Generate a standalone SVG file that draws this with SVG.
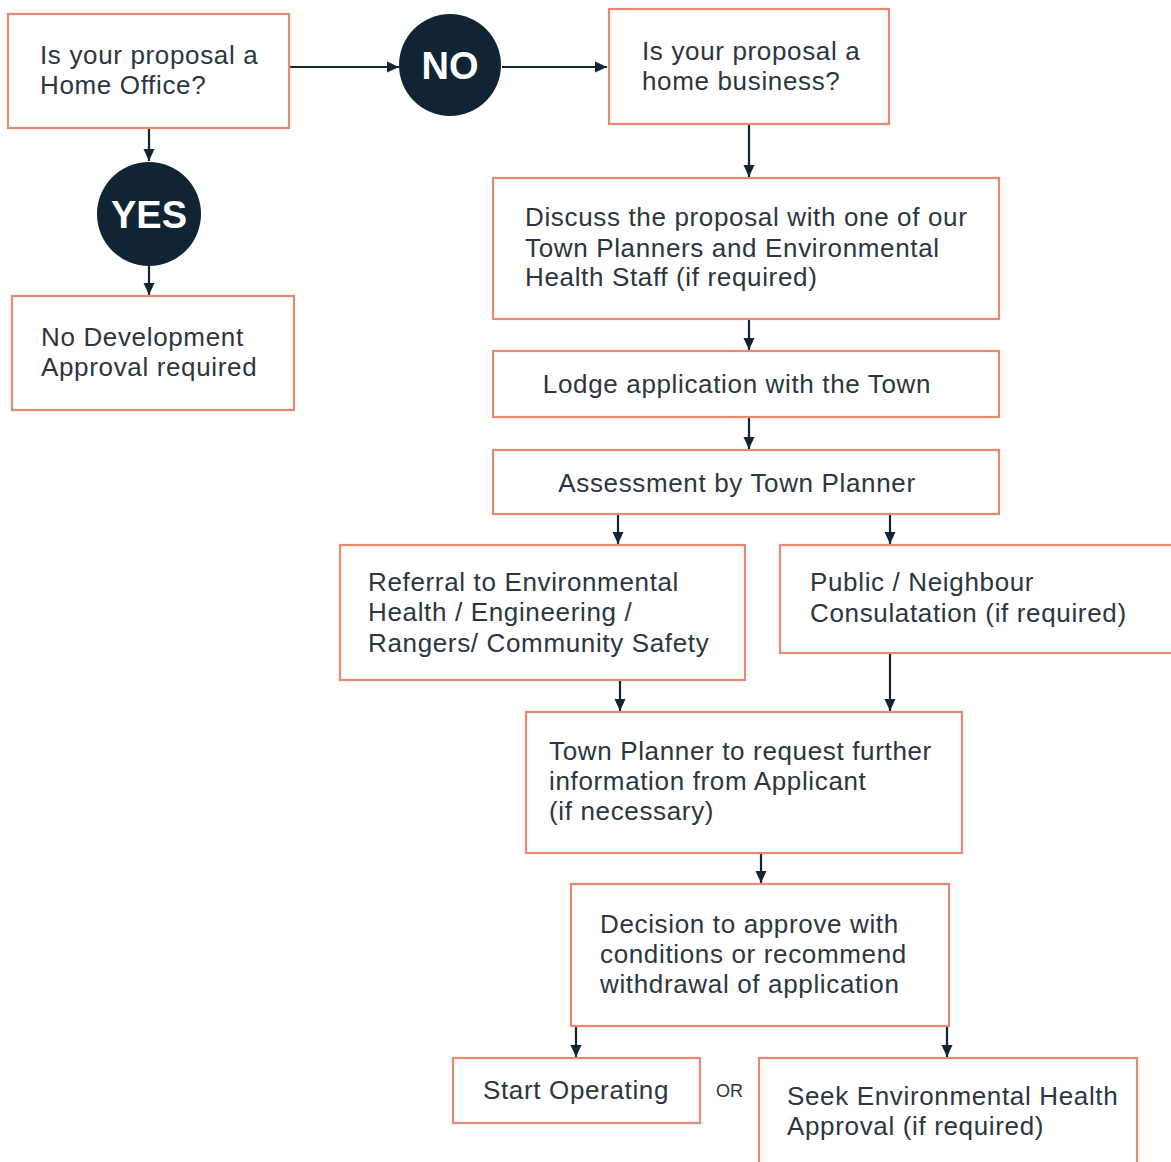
<svg xmlns="http://www.w3.org/2000/svg" width="1171" height="1162" viewBox="0 0 1171 1162">
<defs>
<marker id="ah" viewBox="0 0 12 12" refX="12" refY="6" markerWidth="12" markerHeight="12" markerUnits="userSpaceOnUse" orient="auto">
<path d="M0,0.5 L12,6 L0,11.5 Z" fill="#0f2534"/>
</marker>
<style>
.box{fill:#fff;stroke:#e58a70;stroke-width:2.2}
.t{font-family:"Liberation Sans",Arial,sans-serif;font-size:26px;fill:#2b3640;letter-spacing:0.65px}
.c{text-anchor:middle}
.circ{fill:#0f2534}
.ct{font-family:"Liberation Sans",Arial,sans-serif;font-weight:bold;font-size:38px;fill:#fff;text-anchor:middle}
.ln{stroke:#0f2534;stroke-width:2.2;fill:none;marker-end:url(#ah)}
</style>
</defs>
<rect width="1171" height="1162" fill="#fff"/>
<g id="connectors">
<line class="ln" x1="289" y1="67" x2="399" y2="67"/>
<line class="ln" x1="502" y1="67" x2="607" y2="67"/>
<line class="ln" x1="149" y1="128" x2="149" y2="161"/>
<line class="ln" x1="149" y1="266" x2="149" y2="295"/>
<line class="ln" x1="749" y1="124" x2="749" y2="177"/>
<line class="ln" x1="749" y1="319" x2="749" y2="350"/>
<line class="ln" x1="749" y1="417" x2="749" y2="449"/>
<line class="ln" x1="618" y1="514" x2="618" y2="544"/>
<line class="ln" x1="890" y1="514" x2="890" y2="544"/>
<line class="ln" x1="620" y1="680" x2="620" y2="711"/>
<line class="ln" x1="890" y1="653" x2="890" y2="711"/>
<line class="ln" x1="761" y1="853" x2="761" y2="883"/>
<line class="ln" x1="576" y1="1026" x2="576" y2="1057"/>
<line class="ln" x1="947" y1="1026" x2="947" y2="1057"/>
</g>
<g id="home-office">
<rect class="box" x="8" y="14" width="281" height="114"/>
<text class="t" x="40" y="64">Is your proposal a</text>
<text class="t" x="40" y="94">Home Office?</text>
</g>
<g id="no">
<circle class="circ" cx="450" cy="65" r="51"/>
<text class="ct" x="450" y="79">NO</text>
</g>
<g id="home-business">
<rect class="box" x="609" y="9" width="280" height="115"/>
<text class="t" x="642" y="60">Is your proposal a</text>
<text class="t" x="642" y="90">home business?</text>
</g>
<g id="yes">
<circle class="circ" cx="149" cy="214" r="52"/>
<text class="ct" x="149" y="228">YES</text>
</g>
<g id="no-approval">
<rect class="box" x="12" y="296" width="282" height="114"/>
<text class="t" x="41" y="346">No Development</text>
<text class="t" x="41" y="376">Approval required</text>
</g>
<g id="discuss">
<rect class="box" x="493" y="178" width="506" height="141"/>
<text class="t" x="525" y="226">Discuss the proposal with one of our</text>
<text class="t" x="525" y="257">Town Planners and Environmental</text>
<text class="t" x="525" y="286">Health Staff (if required)</text>
</g>
<g id="lodge">
<rect class="box" x="493" y="351" width="506" height="66"/>
<text class="t c" x="737" y="393">Lodge application with the Town</text>
</g>
<g id="assessment">
<rect class="box" x="493" y="450" width="506" height="64"/>
<text class="t c" x="737" y="492">Assessment by Town Planner</text>
</g>
<g id="referral">
<rect class="box" x="340" y="545" width="405" height="135"/>
<text class="t" x="368" y="591">Referral to Environmental</text>
<text class="t" x="368" y="621">Health / Engineering /</text>
<text class="t" x="368" y="652">Rangers/ Community Safety</text>
</g>
<g id="public">
<rect class="box" x="780" y="545" width="400" height="108"/>
<text class="t" x="810" y="591">Public / Neighbour</text>
<text class="t" x="810" y="622">Consulatation (if required)</text>
</g>
<g id="request-info">
<rect class="box" x="526" y="712" width="436" height="141"/>
<text class="t" x="549" y="760">Town Planner to request further</text>
<text class="t" x="549" y="790">information from Applicant</text>
<text class="t" x="549" y="820">(if necessary)</text>
</g>
<g id="decision">
<rect class="box" x="571" y="884" width="378" height="142"/>
<text class="t" x="600" y="933">Decision to approve with</text>
<text class="t" x="600" y="963">conditions or recommend</text>
<text class="t" x="600" y="993">withdrawal of application</text>
</g>
<g id="start">
<rect class="box" x="453" y="1058" width="247" height="65"/>
<text class="t" x="483" y="1099">Start Operating</text>
</g>
<text x="716" y="1097" font-family="Liberation Sans, Arial, sans-serif" font-size="18" fill="#2b3640">OR</text>
<g id="seek">
<rect class="box" x="759" y="1058" width="378" height="120"/>
<text class="t" x="787" y="1105">Seek Environmental Health</text>
<text class="t" x="787" y="1135">Approval (if required)</text>
</g>
</svg>
